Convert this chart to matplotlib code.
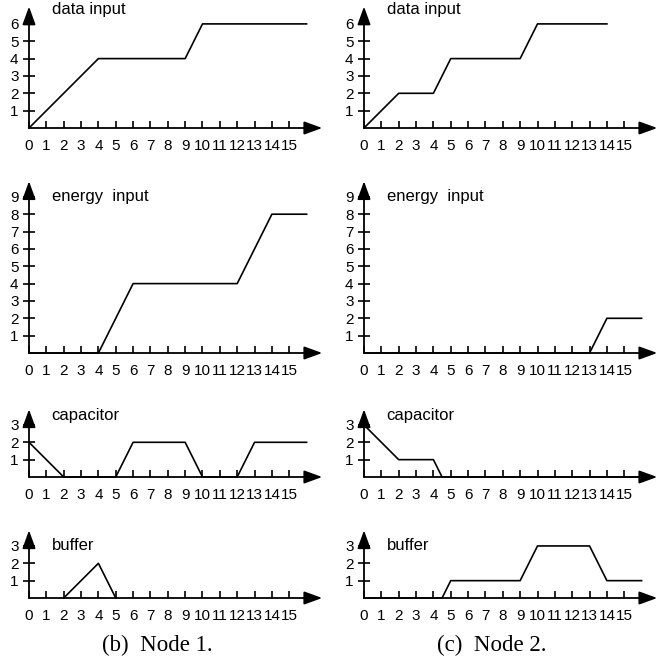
import matplotlib.pyplot as plt

# figure size in pixels
W, H = 658, 666
UNIT = 17.35      # pixels per data unit, both axes
XMAX = 16.9       # where the x arrow ends

x_ticks = list(range(16))

# node 1
n1_data_x = [0, 4, 9, 10, 16]
n1_data_y = [0, 4, 4, 6, 6]
n1_energy_x = [0, 4, 6, 12, 14, 16]
n1_energy_y = [0, 0, 4, 4, 8, 8]
n1_cap_x = [0, 2, 5, 6, 9, 10, 12, 13, 16]
n1_cap_y = [2, 0, 0, 2, 2, 0, 0, 2, 2]
n1_buf_x = [2, 4, 5]
n1_buf_y = [0, 2, 0]

# node 2
n2_data_x = [0, 2, 4, 5, 9, 10, 14]
n2_data_y = [0, 2, 2, 4, 4, 6, 6]
n2_energy_x = [0, 13, 14, 16]
n2_energy_y = [0, 0, 2, 2]
n2_cap_x = [0, 2, 4, 4.5, 16]
n2_cap_y = [3, 1, 1, 0, 0]
n2_buf_x = [0, 4.5, 5, 9, 10, 13, 14, 16]
n2_buf_y = [0, 0, 1, 1, 3, 3, 1, 1]

plt.rcParams['font.family'] = ['Liberation Sans', 'DejaVu Sans']

fig = plt.figure(figsize=(W / 100, H / 100), dpi=100)


def panel(left, axis_y, top, yticks, title, title_y, xs, ys):
    # left / axis_y are pixel positions (from top-left) of the origin
    ax = fig.add_axes([left / W, 1 - axis_y / H, XMAX * UNIT / W, top * UNIT / H])
    ax.set_xlim(0, XMAX)
    ax.set_ylim(0, top)
    ax.patch.set_visible(False)
    for s in ax.spines.values():
        s.set_visible(False)

    ax.plot(xs, ys, color='black', lw=1.2, clip_on=False, zorder=3)

    arrow = dict(arrowstyle='-|>,head_length=1.1,head_width=0.4', color='black',
                 lw=1.3, shrinkA=0, shrinkB=0, mutation_scale=10)
    ax.annotate('', xy=(XMAX, 0), xytext=(0, 0), arrowprops=arrow, annotation_clip=False)
    ax.annotate('', xy=(0, top), xytext=(0, 0), arrowprops=arrow, annotation_clip=False)

    ax.set_xticks(x_ticks)
    ax.set_xticklabels([str(t) for t in x_ticks])
    ax.set_yticks(yticks)
    ax.set_yticklabels([str(t) for t in yticks])
    ax.tick_params(axis='x', direction='in', length=5, width=1.2, pad=8, labelsize=11)
    ax.tick_params(axis='y', direction='inout', length=9, width=1.2, pad=3, labelsize=11)

    ax.text(1.3, title_y, title, fontsize=12, va='center', ha='left')
    return ax


for left, d in [(29, (n1_data_x, n1_data_y, n1_energy_x, n1_energy_y,
                      n1_cap_x, n1_cap_y, n1_buf_x, n1_buf_y)),
                (364, (n2_data_x, n2_data_y, n2_energy_x, n2_energy_y,
                       n2_cap_x, n2_cap_y, n2_buf_x, n2_buf_y))]:
    panel(left, 128, 7.0, range(1, 7), 'data input', 6.85, d[0], d[1])
    panel(left, 353, 9.9, range(1, 10), 'energy  input', 9.0, d[2], d[3])
    panel(left, 477, 3.9, range(1, 4), 'capacitor', 3.55, d[4], d[5])
    panel(left, 598, 3.9, range(1, 4), 'buffer', 3.0, d[6], d[7])

fig.text(157 / W, 1 - 645 / H, '(b)  Node 1.', family='Liberation Serif',
         fontsize=16.5, ha='center', va='center')
fig.text(492 / W, 1 - 645 / H, '(c)  Node 2.', family='Liberation Serif',
         fontsize=16.5, ha='center', va='center')

fig.savefig('out.png', dpi=100)
